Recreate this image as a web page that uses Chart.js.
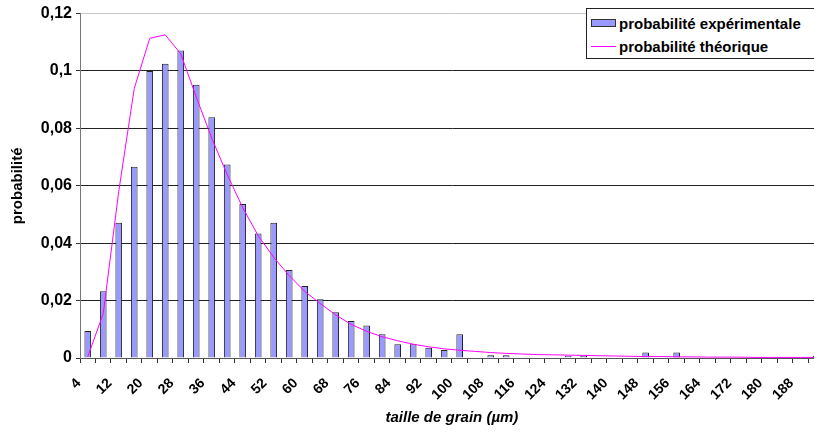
<!DOCTYPE html>
<html lang="fr">
<head>
<meta charset="utf-8">
<title>Probabilité - taille de grain</title>
<script src="https://cdn.jsdelivr.net/npm/chart.js@4.4.1/dist/chart.umd.min.js"></script>
<style>
  html, body { margin: 0; padding: 0; background: #fff; overflow: hidden; }
  #wrap { position: relative; width: 840px; height: 439px; }
  #legende {
    position: absolute; left: 586px; top: 8px; width: 250px; height: 49px;
    border: 1px solid #222; background: #fff;
    font: bold 15px 'Liberation Sans', Arial, sans-serif; color: #000;
  }
  .item { position: absolute; left: 4px; height: 18px; display: flex; align-items: center; white-space: nowrap; }
  .swatch { width: 25px; margin-right: 3px; box-sizing: border-box; }
</style>
</head>
<body>
<div id="wrap">
  <canvas id="chartGrain" width="840" height="439"></canvas>
  <div id="legende"></div>
</div>
<script>
// Classes de taille de grain (µm)
const categories = [
  '4', '8', '12', '16', '20', '24', '28', '32', '36', '40', '44', '48',
  '52', '56', '60', '64', '68', '72', '76', '80', '84', '88', '92', '96',
  '100', '104', '108', '112', '116', '120', '124', '128', '132', '136', '140', '144',
  '148', '152', '156', '160', '164', '168', '172', '176', '180', '184', '188', '192',
];

// Histogramme mesuré
const probaExperimentale = [
  0.0094, 0.0233, 0.0471, 0.0666, 0.1000, 0.1025, 0.1071, 0.0952, 0.0839, 0.0674, 0.0537, 0.0434,
  0.0471, 0.0307, 0.0251, 0.0205, 0.0159, 0.0129, 0.0113, 0.0083, 0.0048, 0.0048, 0.0036, 0.0028,
  0.0083, 0, 0.0010, 0.0010, 0, 0, 0, 0.0008, 0.0008, 0, 0, 0.0003,
  0.0019, 0, 0.0019, 0, 0, 0, 0, 0, 0, 0, 0, 0.0008,
];

// Courbe du modèle
const probaTheorique = [
  0.0004, 0.0155, 0.0580, 0.0939, 0.1114, 0.1126, 0.1060, 0.0910, 0.0766, 0.0639, 0.0524, 0.0426,
  0.0351, 0.0287, 0.0232, 0.0190, 0.0150, 0.0117, 0.0093, 0.0074, 0.0060, 0.0048, 0.0039, 0.0032,
  0.0027, 0.0023, 0.0019, 0.0016, 0.0014, 0.0012, 0.0011, 0.0010, 0.0009, 0.0008, 0.0007, 0.0006,
  0.0005, 0.0005, 0.0004, 0.0004, 0.0003, 0.0003, 0.0003, 0.0002, 0.0002, 0.0002, 0.0002, 0.0002,
];

const FONT = "'Liberation Sans', Arial, sans-serif";
const BAR_COLOR = '#9999ff';
const LINE_COLOR = '#ff00ff';

// Format français : 0,02 / 0,1 / 0
function formatFr(v) {
  return String(parseFloat(v.toFixed(2))).replace('.', ',');
}

const chart = new Chart(document.getElementById('chartGrain'), {
  type: 'bar',
  data: {
    labels: categories,
    datasets: [
      {
        type: 'bar',
        label: 'probabilité expérimentale',
        data: probaExperimentale,
        backgroundColor: BAR_COLOR,
        borderColor: '#222',
        borderWidth: 1,
        barPercentage: 0.43,
        categoryPercentage: 1,
        order: 1,
      },
      {
        type: 'line',
        label: 'probabilité théorique',
        data: probaTheorique,
        borderColor: LINE_COLOR,
        borderWidth: 1,
        pointRadius: 0,
        tension: 0,
        fill: false,
        order: 0, // dessinée par-dessus les barres
      },
    ],
  },
  options: {
    responsive: false,
    animation: false,
    layout: { padding: { top: 11, right: 0, left: 0, bottom: 0 } },
    plugins: {
      legend: { display: false },
      tooltip: { enabled: false },
    },
    scales: {
      x: {
        offset: true,
        grid: {
          offset: true,
          drawOnChartArea: false,
          drawTicks: true,
          tickLength: 5,
          tickColor: '#333',
        },
        border: { color: '#555' },
        ticks: {
          autoSkip: false,
          maxRotation: 45,
          minRotation: 45,
          padding: 12,
          labelOffset: -9,
          color: '#000',
          font: { family: FONT, size: 14, weight: 'bold' },
          callback: function (val, i) { return i % 2 === 0 ? this.getLabelForValue(val) : ''; },
        },
        title: {
          display: true,
          text: 'taille de grain (µm)',
          color: '#000',
          font: { family: FONT, size: 15, weight: 'bold', style: 'italic' },
          padding: { top: 0, bottom: 12 },
        },
        afterFit: s => { s.height = 81; },
      },
      y: {
        min: 0,
        max: 0.12,
        grid: {
          color: ctx => (ctx.tick && ctx.tick.value >= 0.119 ? '#c8c8c8' : '#222'),
          tickColor: '#333',
          tickLength: 4,
        },
        border: { color: '#777' },
        ticks: {
          stepSize: 0.02,
          padding: 4,
          color: '#000',
          font: { family: FONT, size: 16, weight: 'bold' },
          callback: v => formatFr(v),
        },
        title: {
          display: true,
          text: 'probabilité',
          color: '#000',
          font: { family: FONT, size: 15, weight: 'bold' },
          padding: { top: 9, bottom: 0 },
        },
        afterFit: s => { s.width = 80; },
      },
    },
  },
});

// Légende encadrée, construite depuis les datasets
const legende = document.getElementById('legende');
chart.data.datasets.forEach((ds, i) => {
  const item = document.createElement('div');
  item.className = 'item';
  item.style.top = (5 + i * 23) + 'px';
  const sw = document.createElement('span');
  sw.className = 'swatch';
  if (ds.type === 'bar') {
    sw.style.height = '8px';
    sw.style.background = ds.backgroundColor;
    sw.style.border = '1px solid #333';
  } else {
    sw.style.height = '1px';
    sw.style.background = ds.borderColor;
  }
  item.appendChild(sw);
  item.appendChild(document.createTextNode(ds.label));
  legende.appendChild(item);
});
</script>
</body>
</html>
